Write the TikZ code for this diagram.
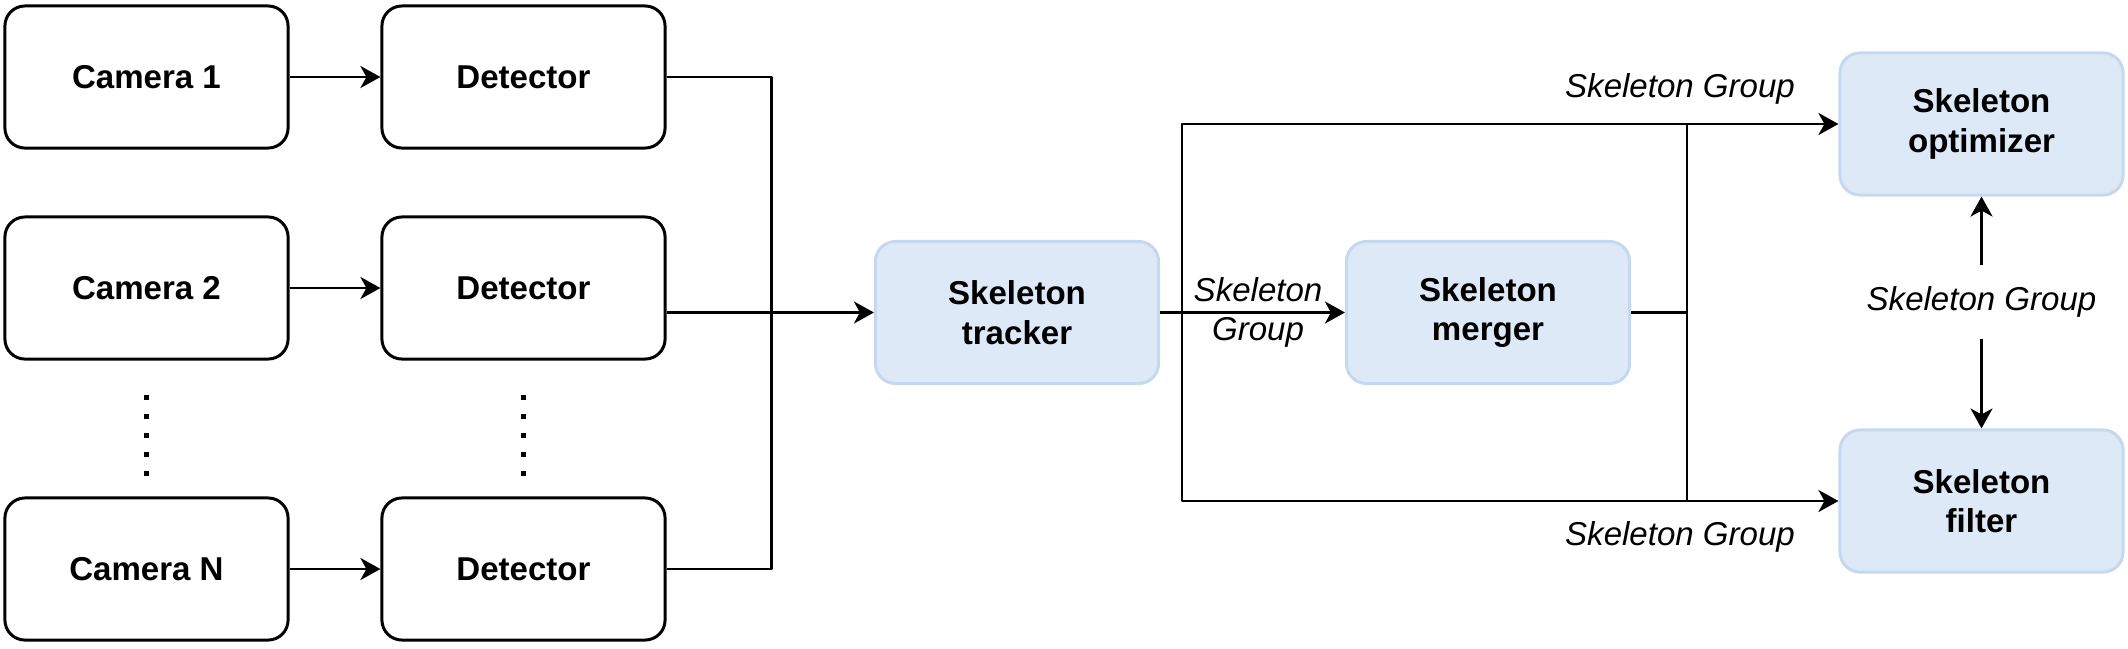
\documentclass[tikz,border=0pt]{standalone}
\usepackage{fontspec}
\setmainfont{Liberation Sans}
\usetikzlibrary{arrows.meta}
\definecolor{boxfill}{HTML}{DEE9F7}
\definecolor{boxline}{HTML}{C6D8EE}
\tikzset{
  blackbox/.style={draw,rounded corners=0.2cm,line width=0.85pt,minimum width=2.83cm,minimum height=1.42cm,align=center,font=\fontsize{9.4}{11.2}\selectfont\bfseries},
  bluebox/.style={blackbox,draw=boxline,fill=boxfill},
  grplabel/.style={font=\fontsize{9.4}{11.2}\selectfont\itshape,align=center,inner sep=1pt},
  vdots/.style={line width=1.3pt,dash pattern=on 1.3pt off 4.1pt}
}
\begin{document}
\begin{tikzpicture}[x=0.01cm,y=-0.01cm,line join=round,line width=0.8pt,>={Stealth[length=0.2cm,width=0.22cm,inset=0.06cm]}]
\useasboundingbox (0,0) rectangle (2128,648);

% cameras and detectors
\node[blackbox] (cam1) at (146.5,77) {Camera 1};
\node[blackbox] (cam2) at (146.5,288) {Camera 2};
\node[blackbox] (camN) at (146.5,569) {Camera N};
\node[blackbox] (det1) at (523.5,77) {Detector};
\node[blackbox] (det2) at (523.5,288) {Detector};
\node[blackbox] (detN) at (523.5,569) {Detector};
\draw[vdots] (146.5,395) -- (146.5,478);
\draw[vdots] (523.5,395) -- (523.5,478);

% skeleton stages
\node[bluebox] (trk) at (1017,312.5) {Skeleton\\tracker};
\node[bluebox] (mrg) at (1488,312.5) {Skeleton\\merger};
\node[bluebox] (opt) at (1981.5,124) {Skeleton\\optimizer};
\node[bluebox] (flt) at (1981.5,501) {Skeleton\\filter};

\coordinate (split) at (1182,312.5);
\coordinate (join) at (1687,312.5);

\draw[->] (cam1) -- (det1);
\draw[->] (cam2) -- (det2);
\draw[->] (camN) -- (detN);
\draw (det1.east) -- ++(105,0) |- (detN.east);
\draw[->] (det2.east |- trk.west) -- (trk.west);

\draw[->] (trk) -- (mrg) node[grplabel,pos=0.53] (grp1) {Skeleton\\Group};
\draw[->] (split) |- (opt.west);
\draw[->] (split) |- (flt.west);
\draw (mrg.east) -- (join);
\draw (join |- opt.west) -- (join |- flt.west);

\node[grplabel] (grp2) at (1680,89) {Skeleton Group};
\node[grplabel] (grp3) at (1680,537) {Skeleton Group};
\node[grplabel,inner ysep=0.2cm] (grp4) at (1981.5,302) {Skeleton Group};
\draw[->] (grp4.north) -- (opt.south);
\draw[->] (grp4.south) -- (flt.north);
\end{tikzpicture}
\end{document}
